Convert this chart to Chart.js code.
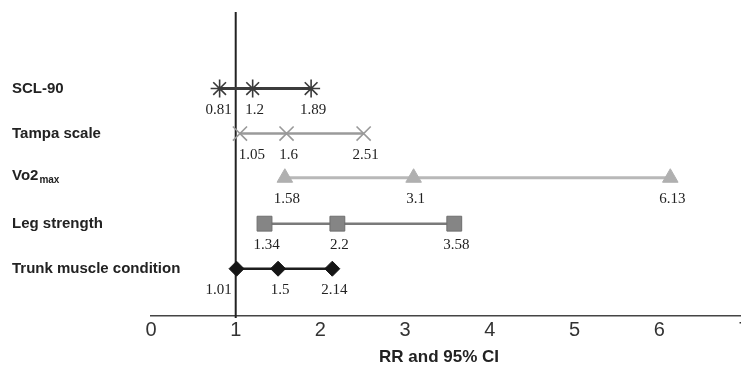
<!DOCTYPE html>
<html>
<head>
<meta charset="utf-8">
<script src="https://cdn.jsdelivr.net/npm/chart.js@4/dist/chart.umd.min.js"></script>
<style>
html,body{margin:0;padding:0;background:#fff;overflow:hidden;}
#wrap{width:760px;height:369px;position:relative;}
</style>
</head>
<body>
<div id="wrap"><canvas id="c" width="760" height="369"></canvas></div>
<script>
const categories = ["SCL-90", "Tampa scale", "Vo2max", "Leg strength", "Trunk muscle condition"];
const lowerCI = [0.81, 1.05, 1.58, 1.34, 1.01];
const rr      = [1.2, 1.6, 3.1, 2.2, 1.5];
const upperCI = [1.89, 2.51, 6.13, 3.58, 2.14];
const rowPos  = [5, 4, 3.02, 2, 1];
const xTicks  = [0, 1, 2, 3, 4, 5, 6, 7];
const axisTitle = 'RR and 95% CI';

const styles = [
  {line:'#3c3c3c', lw:3, ps:'star', r:9, fill:'#444', border:'#3a3a3a', bw:1.6},
  {line:'#9a9a9a', lw:2.5, ps:'crossRot', r:10, fill:'#999', border:'#999', bw:1.6},
  {line:'#b8b8b8', lw:3, ps:'triangle', r:9, fill:'#b0b0b0', border:'#b0b0b0', bw:1},
  {line:'#7a7a7a', lw:2.5, ps:'rect', r:10.5, fill:'#858585', border:'#6e6e6e', bw:1},
  {line:'#1e1e1e', lw:2.5, ps:'rectRot', r:7.5, fill:'#151515', border:'#151515', bw:1}
];

const datasets = categories.map((c, i) => ({
  label: c,
  data: [lowerCI[i], rr[i], upperCI[i]].map(v => ({x: v, y: rowPos[i]})),
  borderColor: styles[i].line,
  borderWidth: styles[i].lw,
  pointStyle: styles[i].ps,
  pointRadius: styles[i].r,
  pointBackgroundColor: styles[i].fill,
  pointBorderColor: styles[i].border,
  pointBorderWidth: styles[i].bw,
  showLine: true,
  tension: 0
}));

const refLine = {
  id: 'refLine',
  beforeDatasetsDraw(chart) {
    const {ctx, chartArea, scales} = chart;
    const x = scales.x.getPixelForValue(1);
    ctx.save();
    ctx.strokeStyle = '#222';
    ctx.lineWidth = 2;
    ctx.beginPath();
    ctx.moveTo(x, chartArea.top);
    ctx.lineTo(x, chartArea.bottom + 2);
    ctx.stroke();
    ctx.restore();
  }
};

const labelsPlugin = {
  id: 'labelsPlugin',
  afterDatasetsDraw(chart) {
    const {ctx, scales} = chart;
    const axisX = scales.x.getPixelForValue(1);
    ctx.save();
    ctx.fillStyle = '#222';
    ctx.textBaseline = 'middle';
    ctx.textAlign = 'left';
    categories.forEach((c, i) => {
      const y = scales.y.getPixelForValue(rowPos[i]);
      if (c === 'Vo2max') {
        ctx.font = 'bold 15px "Liberation Sans", Arial, sans-serif';
        ctx.fillText('Vo2', 12, y - 2);
        const w = ctx.measureText('Vo2').width;
        ctx.font = 'bold 10px "Liberation Sans", Arial, sans-serif';
        ctx.fillText('max', 12 + w + 1, y + 3);
      } else {
        ctx.font = 'bold 15px "Liberation Sans", Arial, sans-serif';
        ctx.fillText(c, 12, y);
      }
    });
    ctx.font = '15px "Liberation Serif", "Times New Roman", serif';
    ctx.fillStyle = '#222';
    chart.data.datasets.forEach((ds, i) => {
      const meta = chart.getDatasetMeta(i);
      meta.data.forEach((pt, j) => {
        const v = ds.data[j].x;
        const y = pt.y + 21;
        if (v < 1.02) {
          ctx.textAlign = 'right';
          ctx.fillText(String(v), axisX - 4, y);
        } else if (v < 1.1) {
          ctx.textAlign = 'left';
          ctx.fillText(String(v), axisX + 3, y);
        } else {
          ctx.textAlign = 'center';
          ctx.fillText(String(v), pt.x + 2, y);
        }
      });
    });
    ctx.font = 'bold 17px "Liberation Sans", Arial, sans-serif';
    ctx.textAlign = 'center';
    ctx.fillText(axisTitle, scales.x.getPixelForValue(3.4), 357);
    ctx.restore();
  }
};

new Chart(document.getElementById('c'), {
  type: 'scatter',
  data: { datasets },
  options: {
    responsive: false,
    animation: false,
    layout: { padding: { left: 151, right: 16, top: 12, bottom: 30 } },
    plugins: { legend: { display: false }, tooltip: { enabled: false } },
    scales: {
      x: {
        type: 'linear',
        min: 0, max: 7,
        afterFit(s) { s.paddingLeft = 0; s.paddingRight = 0; },
        afterBuildTicks(s) { s.ticks = xTicks.map(v => ({value: v})); },
        grid: { display: false, drawOnChartArea: false, drawTicks: true, tickLength: 5, color: '#444', tickColor: '#444' },
        border: { display: true, color: '#444', width: 1.5 },
        ticks: { color: '#333', font: { family: '"Liberation Sans", Arial, sans-serif', size: 20 }, padding: -3, maxRotation: 0 }
      },
      y: {
        type: 'linear',
        min: -0.05, max: 6.7,
        display: false
      }
    }
  },
  plugins: [refLine, labelsPlugin]
});
</script>
</body>
</html>
